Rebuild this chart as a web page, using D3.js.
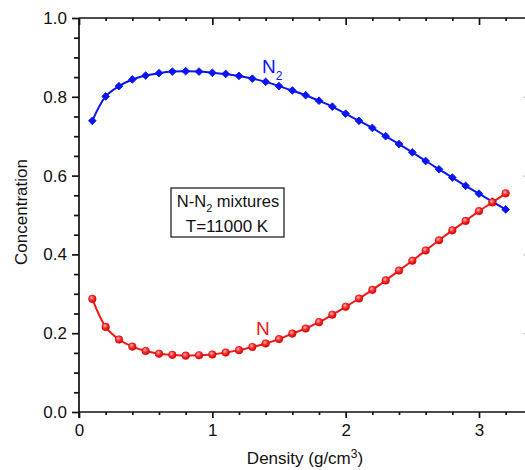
<!DOCTYPE html>
<html>
<head>
<meta charset="utf-8">
<script src="https://cdn.jsdelivr.net/npm/d3@7"></script>
<style>
  html, body { margin: 0; padding: 0; background: #fff; }
  svg { display: block; font-family: "Liberation Sans", Arial, Helvetica, sans-serif; }
</style>
</head>
<body>
<svg id="chart" width="525" height="470"></svg>
<script>
// Density grid (g/cm^3)
const density = [0.1, 0.2, 0.3, 0.4, 0.5, 0.6, 0.7, 0.8, 0.9, 1.0,
                 1.1, 1.2, 1.3, 1.4, 1.5, 1.6, 1.7, 1.8, 1.9, 2.0,
                 2.1, 2.2, 2.3, 2.4, 2.5, 2.6, 2.7, 2.8, 2.9, 3.0,
                 3.1, 3.2];

// Molecular fraction N2
const n2Conc = [0.739, 0.801, 0.827, 0.844, 0.854, 0.860, 0.864, 0.865, 0.864, 0.861,
                0.858, 0.853, 0.846, 0.838, 0.827, 0.816, 0.804, 0.790, 0.775, 0.757,
                0.739, 0.721, 0.700, 0.680, 0.659, 0.637, 0.616, 0.595, 0.574, 0.554,
                0.534, 0.514];

// Atomic fraction N
const nConc = [0.287, 0.216, 0.184, 0.166, 0.155, 0.148, 0.145, 0.143, 0.144, 0.146,
               0.151, 0.157, 0.165, 0.174, 0.185, 0.199, 0.212, 0.228, 0.247, 0.267,
               0.288, 0.310, 0.334, 0.359, 0.384, 0.410, 0.436, 0.461, 0.485, 0.510,
               0.532, 0.555];

const xTickLabels = [0, 1, 2, 3];
const yTickLabels = [0.0, 0.2, 0.4, 0.6, 0.8, 1.0];

const svg = d3.select("#chart");
const padL = 79, padR = 527, padT = 18, padB = 412;

const x = d3.scaleLinear().domain([0, 3]).range([padL, padL + 400]);
const y = d3.scaleLinear().domain([0, 1]).range([padB, padT]);

const xMinor = d3.range(0, 3.41, 0.2).filter(v => Math.abs(v - Math.round(v)) > 1e-6);
const yMinor = d3.range(0.05, 1.0, 0.05).filter(v => Math.abs(v * 5 - Math.round(v * 5)) > 1e-6);

const axisColor = "#111";
const sw = 1.7;

function styleAxis(g) {
  g.select(".domain").remove();
  g.selectAll(".tick line").attr("stroke", axisColor).attr("stroke-width", sw);
  g.selectAll(".tick text").attr("fill", "#111").style("font-size", "17px");
}

// Bottom axis: majors with labels, minor outward ticks
svg.append("g").attr("transform", `translate(0,${padB})`)
  .call(d3.axisBottom(x).tickValues(xTickLabels).tickFormat(d3.format("d")).tickSize(6).tickPadding(6))
  .call(styleAxis);
svg.append("g").attr("transform", `translate(0,${padB})`)
  .call(d3.axisBottom(x).tickValues(xMinor).tickFormat("").tickSize(3))
  .call(styleAxis);

// Top axis: inward ticks
svg.append("g").attr("transform", `translate(0,${padT})`)
  .call(d3.axisBottom(x).tickValues(xTickLabels).tickFormat("").tickSize(7))
  .call(styleAxis);
svg.append("g").attr("transform", `translate(0,${padT})`)
  .call(d3.axisBottom(x).tickValues(xMinor).tickFormat("").tickSize(3))
  .call(styleAxis);

// Left axis
svg.append("g").attr("transform", `translate(${padL},0)`)
  .call(d3.axisLeft(y).tickValues(yTickLabels).tickFormat(d3.format(".1f")).tickSize(7).tickPadding(5))
  .call(styleAxis);
svg.append("g").attr("transform", `translate(${padL},0)`)
  .call(d3.axisLeft(y).tickValues(yMinor).tickFormat("").tickSize(5))
  .call(styleAxis);

// Right axis: inward ticks, frame line sits at the page edge
svg.append("g").attr("transform", `translate(${padR},0)`)
  .call(d3.axisLeft(y).tickValues(yTickLabels.slice(1, 5)).tickFormat("").tickSize(4))
  .call(g => {
    g.select(".domain").remove();
    g.selectAll(".tick line").attr("stroke", "#c8c8c8").attr("stroke-width", 1.2);
  });

// Frame lines
svg.append("line").attr("x1", padL).attr("x2", padR).attr("y1", padT).attr("y2", padT)
  .attr("stroke", axisColor).attr("stroke-width", sw);
svg.append("line").attr("x1", padL).attr("x2", padR).attr("y1", padB).attr("y2", padB)
  .attr("stroke", axisColor).attr("stroke-width", sw);
svg.append("line").attr("x1", padL).attr("x2", padL).attr("y1", padT).attr("y2", padB + 6)
  .attr("stroke", axisColor).attr("stroke-width", sw);

// Axis titles
const xt = svg.append("text").attr("x", 305).attr("y", 464)
  .attr("text-anchor", "middle").style("font-size", "17px").attr("fill", "#111");
xt.append("tspan").text("Density (g/cm");
xt.append("tspan").text("3").attr("dy", -6).style("font-size", "12px");
xt.append("tspan").text(")").attr("dy", 6);

svg.append("text")
  .attr("transform", "translate(27,212) rotate(-90)")
  .attr("text-anchor", "middle").style("font-size", "17px").attr("fill", "#111")
  .text("Concentration");

// Gradient for shaded circle markers
const defs = svg.append("defs");
const grad = defs.append("radialGradient").attr("id", "redBall")
  .attr("cx", "40%").attr("cy", "35%").attr("r", "65%");
grad.append("stop").attr("offset", "0%").attr("stop-color", "#ffb0b0");
grad.append("stop").attr("offset", "50%").attr("stop-color", "#f23030");
grad.append("stop").attr("offset", "100%").attr("stop-color", "#d80000");

const line = d3.line().curve(d3.curveCatmullRom.alpha(0.5))
  .x(d => x(d[0])).y(d => y(d[1]));

const n2Pts = density.map((d, i) => [d, n2Conc[i]]);
const nPts = density.map((d, i) => [d, nConc[i]]);

const blue = "#0a14f5", red = "#f21818";

svg.append("path").datum(n2Pts).attr("d", line)
  .attr("fill", "none").attr("stroke", blue).attr("stroke-width", 2);
svg.append("path").datum(nPts).attr("d", line)
  .attr("fill", "none").attr("stroke", red).attr("stroke-width", 2);

// N2 markers: diamonds (rotated squares)
svg.append("g").selectAll("path").data(n2Pts).join("path")
  .attr("transform", d => `translate(${x(d[0])},${y(d[1])}) rotate(45)`)
  .attr("d", d3.symbol().type(d3.symbolSquare).size(30))
  .attr("fill", blue).attr("stroke", blue).attr("stroke-width", 0.8)
  .attr("stroke-linejoin", "round");

// N markers: shaded circles
svg.append("g").selectAll("circle").data(nPts).join("circle")
  .attr("cx", d => x(d[0])).attr("cy", d => y(d[1])).attr("r", 3.8)
  .attr("fill", "url(#redBall)").attr("stroke", "#e00000").attr("stroke-width", 0.6);

// Series labels
const n2Label = svg.append("text").attr("x", 262).attr("y", 73)
  .attr("fill", blue).style("font-size", "19px");
n2Label.append("tspan").text("N");
n2Label.append("tspan").text("2").attr("dy", 7).style("font-size", "12px");

svg.append("text").attr("x", 256).attr("y", 335)
  .attr("fill", red).style("font-size", "19px").text("N");

// Annotation box
svg.append("rect").attr("x", 171).attr("y", 188).attr("width", 113).attr("height", 49)
  .attr("fill", "#fff").attr("stroke", "#222").attr("stroke-width", 1.3);
const t1 = svg.append("text").attr("x", 228).attr("y", 207)
  .attr("text-anchor", "middle").style("font-size", "16.5px").attr("fill", "#111");
t1.append("tspan").text("N-N");
t1.append("tspan").text("2").attr("dy", 5).style("font-size", "11px");
t1.append("tspan").text(" mixtures").attr("dy", -5);
svg.append("text").attr("x", 227).attr("y", 232)
  .attr("text-anchor", "middle").style("font-size", "17px").attr("fill", "#111")
  .text("T=11000 K");
</script>
</body>
</html>
